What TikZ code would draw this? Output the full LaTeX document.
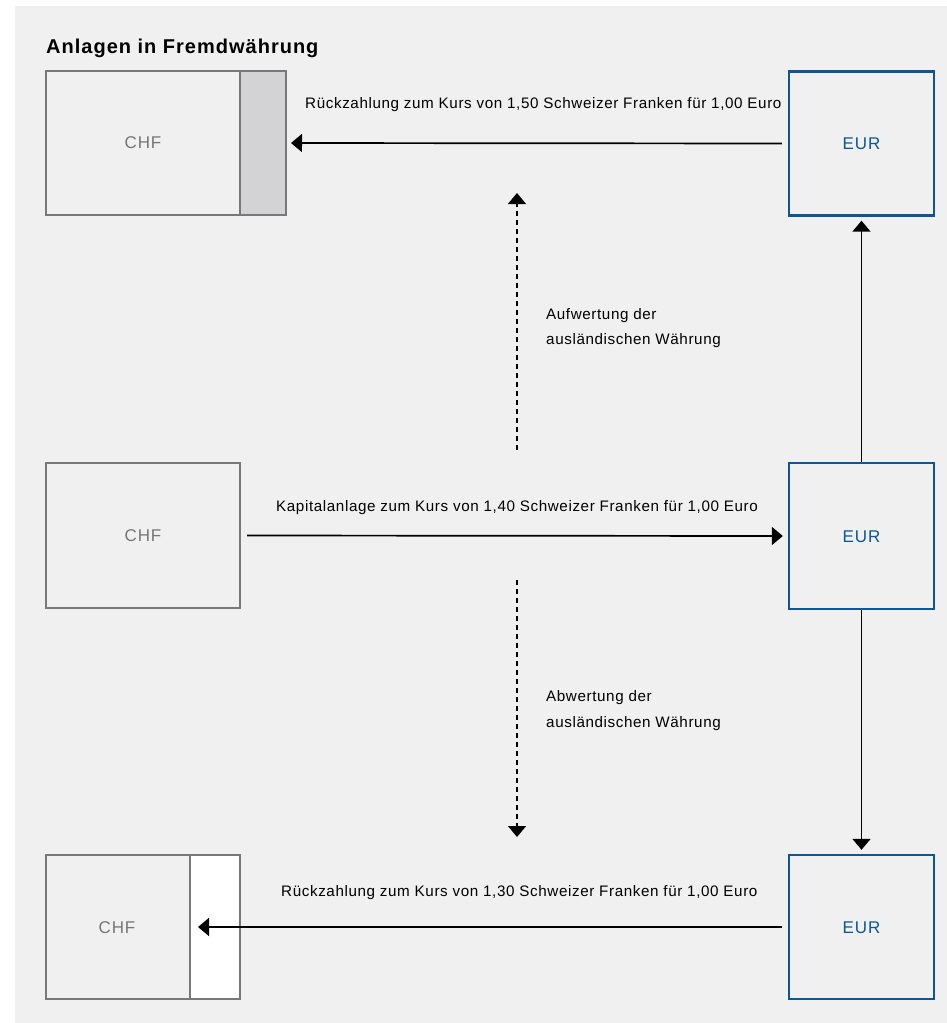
\documentclass[tikz,border=0pt]{standalone}
\usepackage{fontspec}
\setmainfont{Liberation Sans}
\newfontfamily\bodyfont[LetterSpace=4]{Liberation Sans}
\newfontfamily\titlefont[LetterSpace=5]{Liberation Sans}
\newfontfamily\boxfont[LetterSpace=5]{Liberation Sans}
\usetikzlibrary{arrows.meta}
\definecolor{bg}{RGB}{240,240,240}
\definecolor{boxgray}{RGB}{120,120,120}
\definecolor{fillgray}{RGB}{211,211,213}
\definecolor{eurblue}{RGB}{12,86,152}
\definecolor{txtgray}{RGB}{118,118,118}
\tikzset{
  chfbox/.style={draw=boxgray, line width=2pt, fill=bg, inner sep=0pt},
  eurbox/.style={draw=eurblue, line width=2.4pt, fill=bg, inner sep=0pt, minimum width=145pt, minimum height=144pt},
  lbl/.style={anchor=base west, inner sep=0pt, font=\bodyfont\fontsize{15.2}{25}\selectfont, text=black},
  chflbl/.style={inner sep=0pt, font=\boxfont\fontsize{17}{20}\selectfont, text=txtgray},
  eurlbl/.style={inner sep=0pt, font=\boxfont\fontsize{17}{20}\selectfont, text=eurblue},
  flow/.style={line width=1.7pt, -{Triangle[length=11pt,width=18pt]}},
  dflow/.style={line width=1.4pt, dash pattern=on 5pt off 4pt, -{Triangle[length=11pt,width=18pt]}}
}
\begin{document}
\begin{tikzpicture}[x=1pt,y=-1pt]
\useasboundingbox (0,0) rectangle (947,1023);
\fill[bg] (15,6) rectangle (947,1023);

\node[anchor=base west, inner sep=0pt, font=\titlefont\fontsize{20}{22}\selectfont\bfseries] (title) at (46,53) {Anlagen in Fremdwährung};

% top row
\node[chfbox, minimum width=240pt, minimum height=144pt] (chfA) at (166,143) {};
\fill[fillgray] (240,72) rectangle (285,214);
\draw[boxgray, line width=2pt] (240,71) -- (240,215);
\node[chflbl] (chfAt) at (143,143) {CHF};
\node[eurbox] (eurA) at (861.5,143.5) {};
\node[eurlbl] (eurAt) at (861.5,144) {EUR};

% middle row
\node[chfbox, minimum width=194pt, minimum height=145pt] (chfB) at (143,535.5) {};
\node[chflbl] (chfBt) at (143,536) {CHF};
\node[eurbox, minimum height=146pt] (eurB) at (861.5,536) {};
\node[eurlbl] (eurBt) at (861.5,537) {EUR};

% bottom row
\node[chfbox, minimum width=194pt, minimum height=144pt] (chfC) at (143,927) {};
\fill[white] (190,856) rectangle (239,998);
\draw[boxgray, line width=2pt] (190,855) -- (190,999);
\node[chflbl] (chfCt) at (117,928) {CHF};
\node[eurbox] (eurC) at (861.5,927) {};
\node[eurlbl] (eurCt) at (861.5,928) {EUR};

% horizontal connectors
\draw[flow, shorten <=6pt, shorten >=4pt] (eurA.west) -- (chfA.east);
\draw[flow, shorten <=6pt, shorten >=5pt] (chfB.east) -- (eurB.west);
\coordinate (cdiv) at (198,927);
\draw[flow, shorten <=6pt] (eurC.west) -- (cdiv);

% vertical connectors
\draw[flow, shorten >=4pt] (eurB.north) -- (eurA.south);
\draw[flow, shorten >=4pt] (eurB.south) -- (eurC.north);

\coordinate (upS) at (517,450);
\coordinate (upE) at (517,193);
\coordinate (dnS) at (517,580);
\coordinate (dnE) at (517,837);
\draw[dflow] (upS) -- (upE);
\draw[dflow] (dnS) -- (dnE);

% labels
\node[lbl] (l1) at (305,108) {Rückzahlung zum Kurs von 1,50 Schweizer Franken für 1,00 Euro};
\node[lbl] (l2) at (276,511) {Kapitalanlage zum Kurs von 1,40 Schweizer Franken für 1,00 Euro};
\node[lbl] (l3) at (281,896) {Rückzahlung zum Kurs von 1,30 Schweizer Franken für 1,00 Euro};
\node[lbl] (auf1) at (546,319) {Aufwertung der};
\node[lbl] (auf2) at (546,344) {ausländischen Währung};
\node[lbl] (ab1) at (546,701) {Abwertung der};
\node[lbl] (ab2) at (546,727) {ausländischen Währung};
\end{tikzpicture}
\end{document}
